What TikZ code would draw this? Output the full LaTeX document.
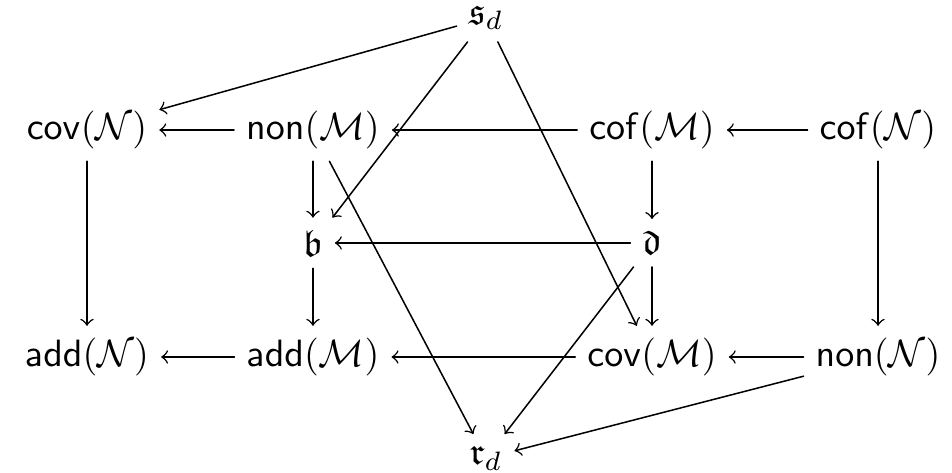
\documentclass[tikz,border=0pt]{standalone}
\usepackage{amsmath,amssymb}
\begin{document}
\begin{tikzpicture}[
      >=to,
      line cap=round,
      line join=round,
      card/.style={inner sep=3pt},
    ]
    
    % 画布大小
    \useasboundingbox (0,0) rectangle (8.80,-4.372);
    
    % 上下两个顶点
    \node[card] (sd) at (4.493,-0.165) {$\mathfrak{s}_d$};
    \node[card] (rd) at (4.493,-4.235) {$\mathfrak{r}_d$};
    
    % 第一行
    \node[card] (covN) at (0.804,-1.202) {$\mathsf{cov}(\mathcal{N})$};
    \node[card] (nonM) at (2.893,-1.202) {$\mathsf{non}(\mathcal{M})$};
    \node[card] (cofM) at (6.027,-1.202) {$\mathsf{cof}(\mathcal{M})$};
    \node[card] (cofN) at (8.116,-1.202) {$\mathsf{cof}(\mathcal{N})$};
    
    % 中间一行
    \node[card] (b) at (2.893,-2.246) {$\mathfrak{b}$};
    \node[card] (d) at (6.027,-2.246) {$\mathfrak{d}$};
    
    % 第三行
    \node[card] (addN) at (0.804,-3.300) {$\mathsf{add}(\mathcal{N})$};
    \node[card] (addM) at (2.893,-3.300) {$\mathsf{add}(\mathcal{M})$};
    \node[card] (covM) at (6.027,-3.300) {$\mathsf{cov}(\mathcal{M})$};
    \node[card] (nonN) at (8.116,-3.300) {$\mathsf{non}(\mathcal{N})$};
    
    % 横向箭头
    \draw[->] (nonM) -- (covN);
    \draw[->] (cofM) -- (nonM);
    \draw[->] (cofN) -- (cofM);
    \draw[->] (d) -- (b);
    \draw[->] (addM) -- (addN);
    \draw[->] (covM) -- (addM);
    \draw[->] (nonN) -- (covM);
    
    % 纵向箭头
    \draw[->] (covN) -- (addN);
    \draw[->] (nonM) -- (b);
    \draw[->] (b) -- (addM);
    \draw[->] (cofM) -- (d);
    \draw[->] (d) -- (covM);
    \draw[->] (cofN) -- (nonN);
    
    % 斜向箭头
    \draw[->] (sd) -- (covN);
    \draw[->] (sd) -- (b);
    \draw[->] (sd) -- (covM);
    \draw[->] (nonM) -- (rd);
    \draw[->] (d) -- (rd);
    \draw[->] (nonN) -- (rd);
    
    \end{tikzpicture}
\end{document}
